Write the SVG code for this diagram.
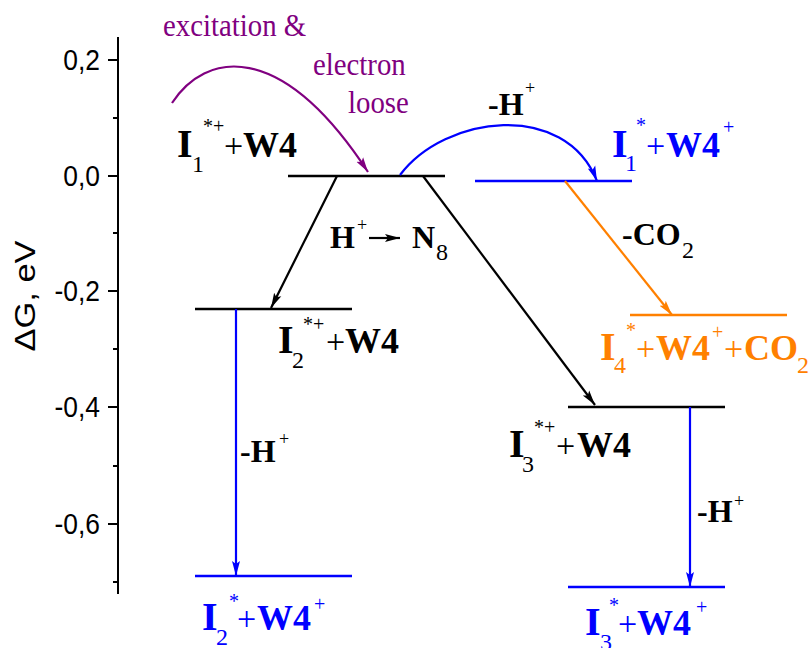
<svg xmlns="http://www.w3.org/2000/svg" width="810" height="648" viewBox="0 0 810 648">
<style>
.ax{stroke:#000;stroke-width:2;fill:none}
.lv{stroke-width:2.6;fill:none}
.cn{stroke-width:2.2;fill:none}
.tk{font-family:"Liberation Sans",Arial,sans-serif;font-size:30px;fill:#000}
.t{font-family:"Liberation Serif","Times New Roman",serif}
.I{font-size:40px;font-weight:bold}
.sub{font-size:24px}
.sup{font-size:20px}
.pl{font-size:34px}
.b{font-size:36px;font-weight:bold}
.h{font-size:32px;font-weight:bold}
.hs{font-size:18px}
.pu{font-family:"Liberation Serif","Times New Roman",serif;font-size:32px;fill:#800080}
</style>
<defs>
<marker id="ak" markerUnits="userSpaceOnUse" markerWidth="16" markerHeight="10" refX="15" refY="5" orient="auto" viewBox="0 0 16 10"><path d="M0,1 L15,5 L0,9 L3,5 z" fill="#000"/></marker>
<marker id="ab" markerUnits="userSpaceOnUse" markerWidth="16" markerHeight="10" refX="15" refY="5" orient="auto" viewBox="0 0 16 10"><path d="M0,1 L15,5 L0,9 L3,5 z" fill="#0000FF"/></marker>
<marker id="ao" markerUnits="userSpaceOnUse" markerWidth="16" markerHeight="10" refX="15" refY="5" orient="auto" viewBox="0 0 16 10"><path d="M0,1 L15,5 L0,9 L3,5 z" fill="#FF8000"/></marker>
<marker id="ap" markerUnits="userSpaceOnUse" markerWidth="16" markerHeight="10" refX="15" refY="5" orient="auto" viewBox="0 0 16 10"><path d="M0,1 L15,5 L0,9 L3,5 z" fill="#800080"/></marker>
</defs>

<g id="axis">
<path class="ax" d="M118,37 V594 M108,60 H118 M113,118 H118 M108,176 H118 M113,233 H118 M108,291 H118 M113,349 H118 M108,407 H118 M113,466 H118 M108,524 H118 M113,582 H118"/>
<g transform="translate(100 0) scale(0.88 1)" class="tk" text-anchor="end">
<text x="0" y="70.5">0,2</text>
<text x="0" y="186.5">0,0</text>
<text x="0" y="301.5">-0,2</text>
<text x="0" y="417.5">-0,4</text>
<text x="0" y="534.5">-0,6</text>
</g>
<text class="tk" font-size="28" text-anchor="middle" transform="translate(35 296) rotate(-90) scale(1.15 1)">ΔG, eV</text>
</g>

<g id="levels">
<line id="L1" class="lv" stroke="#000" x1="288" y1="176" x2="445" y2="176"/>
<line id="L1b" class="lv" stroke="#0000FF" x1="475" y1="181" x2="632" y2="181"/>
<line id="L2" class="lv" stroke="#000" x1="195" y1="309" x2="352" y2="309"/>
<line id="L2b" class="lv" stroke="#0000FF" x1="195" y1="576" x2="352" y2="576"/>
<line id="L4" class="lv" stroke="#FF8000" x1="630" y1="315" x2="787" y2="315"/>
<line id="L3" class="lv" stroke="#000" x1="568" y1="407" x2="725" y2="407"/>
<line id="L3b" class="lv" stroke="#0000FF" x1="568" y1="587" x2="725" y2="587"/>
</g>

<g id="connectors">
<path class="cn" stroke="#800080" d="M172,103 C205,52 280,38 368,172" marker-end="url(#ap)"/>
<path class="cn" stroke="#0000FF" d="M400,175 C445,115 565,100 597,181" marker-end="url(#ab)"/>
<line class="cn" stroke="#000" x1="337" y1="176" x2="271" y2="308" marker-end="url(#ak)"/>
<line class="cn" stroke="#000" x1="423" y1="176" x2="595" y2="405" marker-end="url(#ak)"/>
<line class="cn" stroke="#FF8000" x1="565" y1="181" x2="672" y2="315" marker-end="url(#ao)"/>
<line class="cn" stroke="#0000FF" x1="236" y1="309" x2="236" y2="576" marker-end="url(#ab)"/>
<line class="cn" stroke="#0000FF" x1="690" y1="407" x2="690" y2="587" marker-end="url(#ab)"/>
<line class="cn" stroke="#000" stroke-width="2" x1="369" y1="238" x2="400" y2="238" marker-end="url(#ak)"/>
</g>

<g id="purple-labels">
<text class="pu" transform="translate(163 36) scale(0.9 1)">excitation &amp;</text>
<text class="pu" transform="translate(313 75) scale(0.9 1)">electron</text>
<text class="pu" transform="translate(348 113) scale(0.9 1)">loose</text>
</g>

<g id="n-I1" class="t" fill="#000">
<text><tspan class="I" x="177" y="157">I</tspan><tspan class="sub" x="192" y="172">1</tspan><tspan class="sup" x="203" y="133">*+</tspan><tspan class="pl" x="224" y="157">+</tspan><tspan class="b" x="243" y="157">W4</tspan></text>
</g>
<g id="n-I1b" class="t" fill="#0000FF">
<text><tspan class="I" x="612" y="157">I</tspan><tspan class="sub" x="625" y="171">1</tspan><tspan class="sup" x="636" y="132">*</tspan><tspan class="pl" x="646" y="157">+</tspan><tspan class="b" x="666" y="157">W4</tspan><tspan class="sup" x="723" y="134">+</tspan></text>
</g>
<g id="n-I2" class="t" fill="#000">
<text><tspan class="I" x="278" y="353">I</tspan><tspan class="sub" x="292" y="368">2</tspan><tspan class="sup" x="303" y="331">*+</tspan><tspan class="pl" x="326" y="353">+</tspan><tspan class="b" x="345" y="353">W4</tspan></text>
</g>
<g id="n-I2b" class="t" fill="#0000FF">
<text><tspan class="I" x="202" y="630">I</tspan><tspan class="sub" x="216" y="645">2</tspan><tspan class="sup" x="229" y="608">*</tspan><tspan class="pl" x="237" y="630">+</tspan><tspan class="b" x="257" y="630">W4</tspan><tspan class="sup" x="314" y="611">+</tspan></text>
</g>
<g id="n-I3" class="t" fill="#000">
<text><tspan class="I" x="509" y="457">I</tspan><tspan class="sub" x="522" y="472">3</tspan><tspan class="sup" x="534" y="434">*+</tspan><tspan class="pl" x="556" y="457">+</tspan><tspan class="b" x="577" y="457">W4</tspan></text>
</g>
<g id="n-I3b" class="t" fill="#0000FF">
<text><tspan class="I" x="585" y="635">I</tspan><tspan class="sub" x="600" y="650">3</tspan><tspan class="sup" x="609" y="612">*</tspan><tspan class="pl" x="618" y="635">+</tspan><tspan class="b" x="637" y="635">W4</tspan><tspan class="sup" x="696" y="614">+</tspan></text>
</g>
<g id="n-I4" class="t" fill="#FF8000">
<text><tspan class="I" x="600" y="360">I</tspan><tspan class="sub" x="614" y="373">4</tspan><tspan class="sup" x="626" y="337">*</tspan><tspan class="pl" x="636" y="360">+</tspan><tspan class="b" x="656" y="360">W4</tspan><tspan class="sup" x="712" y="339">+</tspan><tspan class="pl" x="724" y="360">+</tspan><tspan class="b" font-size="35" x="744" y="360">CO</tspan><tspan class="sub" x="797" y="373">2</tspan></text>
</g>

<g id="edge-labels" class="t" fill="#000">
<text><tspan class="h" x="488" y="115">-H</tspan><tspan class="hs" x="525" y="94">+</tspan></text>
<text><tspan class="h" x="240" y="462">-H</tspan><tspan class="hs" x="279" y="445">+</tspan></text>
<text><tspan class="h" x="697" y="522">-H</tspan><tspan class="hs" x="734" y="507">+</tspan></text>
<text><tspan class="h" x="622" y="245">-CO</tspan><tspan class="sub" font-size="22" x="682" y="258">2</tspan></text>
<text><tspan class="h" font-size="33" x="330" y="248">H</tspan><tspan class="hs" x="357" y="231">+</tspan><tspan class="h" x="412" y="248">N</tspan><tspan class="sub" font-size="20" x="436" y="260">8</tspan></text>
</g>
</svg>
